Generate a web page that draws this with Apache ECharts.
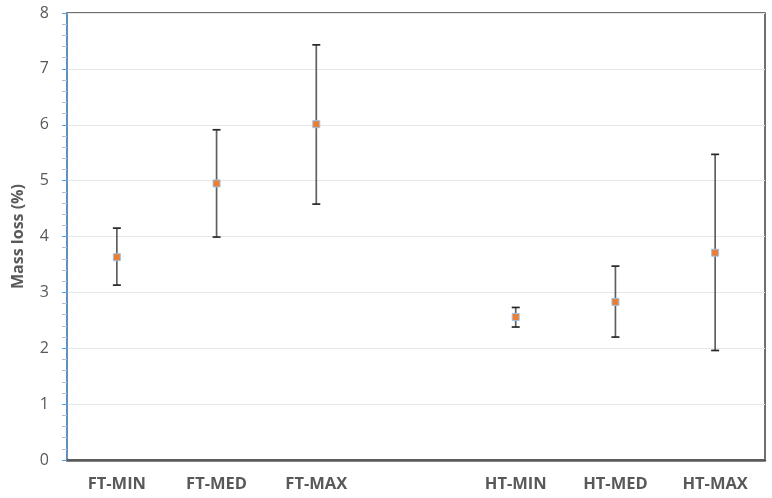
<!DOCTYPE html>
<html>
<head>
<meta charset="utf-8">
<script src="https://cdn.jsdelivr.net/npm/echarts@6/dist/echarts.min.js"></script>
<style>html,body{margin:0;padding:0;background:#fff}#c{width:772px;height:498px}</style>
</head>
<body>
<div id="c"></div>
<script>
var categories = ['FT-MIN', 'FT-MED', 'FT-MAX', '', 'HT-MIN', 'HT-MED', 'HT-MAX'];
var means = [3.63, 4.95, 6.01, null, 2.56, 2.83, 3.71];
var lows  = [3.13, 3.99, 4.58, null, 2.38, 2.20, 1.96];
var highs = [4.15, 5.91, 7.43, null, 2.73, 3.47, 5.47];
var yTicks = [0, 1, 2, 3, 4, 5, 6, 7, 8];

var errData = [];
for (var i = 0; i < categories.length; i++) {
  if (means[i] !== null) errData.push([i, lows[i], highs[i]]);
}
var chart = echarts.init(document.getElementById('c'));
chart.setOption({
  animation: false,
  grid: { left: 67, right: 7, top: 13, bottom: 38, outerBoundsMode: 'none', containLabel: false, show: true, borderColor: '#404040', borderWidth: 1.5, backgroundColor: 'transparent' },
  xAxis: {
    type: 'category',
    data: categories,
    axisLine: { lineStyle: { color: '#595959', width: 2.5 } },
    axisTick: { show: false },
    axisLabel: { color: '#595959', fontFamily: 'Open Sans', fontWeight: 'bold', fontSize: 16.5, margin: 16 }
  },
  yAxis: {
    type: 'value',
    min: yTicks[0], max: yTicks[yTicks.length - 1], interval: 1,
    name: 'Mass loss (%)',
    nameLocation: 'middle',
    nameGap: 41,
    nameTextStyle: { color: '#595959', fontFamily: 'Open Sans', fontWeight: 'bold', fontSize: 16 },
    axisLine: { show: true, lineStyle: { color: '#5B9BD5', width: 1.5 } },
    axisTick: { show: true, length: 5, lineStyle: { color: '#5B9BD5' } },
    minorTick: { show: true, splitNumber: 5, length: 5, lineStyle: { color: '#9DC3E6' } },
    axisLabel: { color: '#595959', fontFamily: 'Open Sans', fontSize: 16, margin: 18 },
    splitLine: { lineStyle: { color: '#E7E7E7', width: 1 } }
  },
  series: [
    {
      type: 'custom',
      data: errData,
      z: 2,
      renderItem: function (params, api) {
        var x = api.value(0);
        var lo = api.coord([x, api.value(1)]);
        var hi = api.coord([x, api.value(2)]);
        var hw = 4;
        return {
          type: 'group',
          children: [
            { type: 'line', shape: { x1: lo[0], y1: lo[1], x2: hi[0], y2: hi[1] }, style: { stroke: '#606060', lineWidth: 1.7 } },
            { type: 'line', shape: { x1: lo[0] - hw, y1: lo[1], x2: lo[0] + hw, y2: lo[1] }, style: { stroke: '#262626', lineWidth: 1.7 } },
            { type: 'line', shape: { x1: hi[0] - hw, y1: hi[1], x2: hi[0] + hw, y2: hi[1] }, style: { stroke: '#262626', lineWidth: 1.7 } }
          ]
        };
      }
    },
    {
      type: 'scatter',
      data: means,
      z: 3,
      symbol: 'rect',
      symbolSize: 7,
      itemStyle: { color: '#ED7D31', borderColor: '#9DC3E6', borderWidth: 1, opacity: 1 }
    }
  ]
});
</script>
</body>
</html>
